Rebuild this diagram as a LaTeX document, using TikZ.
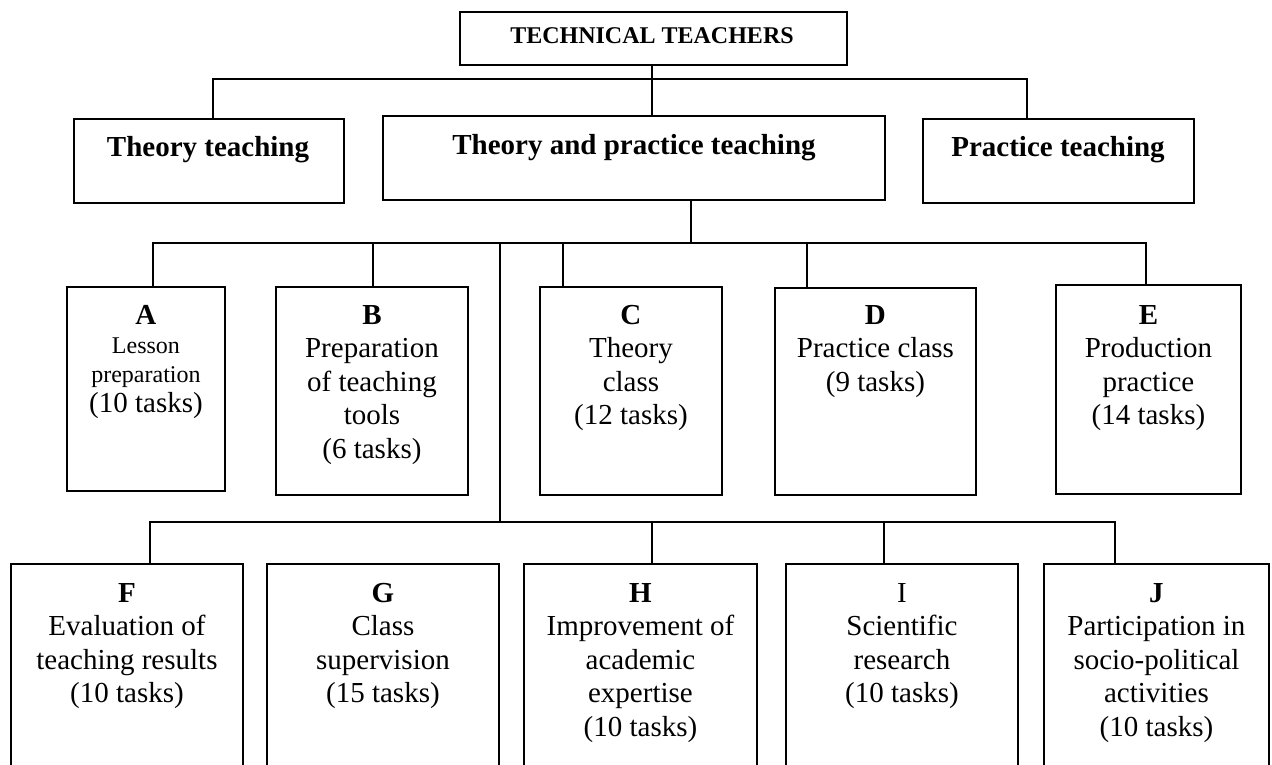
\documentclass[tikz,border=0pt]{standalone}
\usepackage{fontspec}
\setmainfont{Liberation Serif}
% text sizes used in the chart
\newcommand\topfont{\fontsize{24}{28}\selectfont\bfseries}
\newcommand\hdfont{\fontsize{29}{33.5}\selectfont\bfseries}
\newcommand\bxfont{\fontsize{29}{33.5}\selectfont}
\newcommand\smfont{\fontsize{24}{29}\selectfont}
\begin{document}
\begin{tikzpicture}[x=1pt,y=-1pt,
  box/.style={draw, line width=1.9pt, rectangle, inner sep=0pt, anchor=north west},
  wire/.style={line width=1.6pt},
  txt/.style={inner sep=0pt, anchor=base},
]
\useasboundingbox (0,0) rectangle (1272,765);
\clip (0,0) rectangle (1272,765);

% ---- root ----
\node[box, minimum width=387pt, minimum height=53pt] (top) at (459,11) {};
\node[txt] (topT) at (652,44) {\topfont TECHNICAL TEACHERS};

% ---- second level ----
\node[box, minimum width=270pt, minimum height=84pt] (T)  at (73,118)  {};
\node[box, minimum width=502pt, minimum height=84pt] (TP) at (382,115) {};
\node[box, minimum width=271pt, minimum height=84pt] (P)  at (922,118) {};
\node[txt] (Tt)  at (208,157)  {\hdfont Theory teaching};
\node[txt] (TPt) at (634,155)  {\hdfont Theory and practice teaching};
\node[txt] (Pt)  at (1058,157) {\hdfont Practice teaching};

% ---- third level ----
\node[box, minimum width=158pt, minimum height=204pt] (A) at (66,286)   {};
\node[box, minimum width=192pt, minimum height=208pt] (B) at (275,286)  {};
\node[box, minimum width=182pt, minimum height=208pt] (C) at (539,286)  {};
\node[box, minimum width=201pt, minimum height=207pt] (D) at (774,287)  {};
\node[box, minimum width=185pt, minimum height=209pt] (E) at (1055,284) {};

\node[txt] (At) at (A.north |- 0,324) {\parbox[t]{154pt}{\centering\bxfont
  \textbf{A}\par{\smfont Lesson\par preparation\par}{\fontsize{29}{30}\selectfont (10 tasks)\par}}};
\node[txt] (Bt) at (B.north |- 0,324) {\parbox[t]{188pt}{\centering\bxfont
  \textbf{B}\par Preparation\par of teaching\par tools\par (6 tasks)\par}};
\node[txt] (Ct) at (C.north |- 0,324) {\parbox[t]{178pt}{\centering\bxfont
  \textbf{C}\par Theory\par class\par (12 tasks)\par}};
\node[txt] (Dt) at (D.north |- 0,324) {\parbox[t]{197pt}{\centering\bxfont
  \textbf{D}\par Practice class\par (9 tasks)\par}};
\node[txt] (Et) at (E.north |- 0,324) {\parbox[t]{181pt}{\centering\bxfont
  \textbf{E}\par Production\par practice\par (14 tasks)\par}};

% ---- fourth level (boxes run past the lower edge) ----
\node[box, minimum width=232pt, minimum height=260pt] (F) at (10,563)   {};
\node[box, minimum width=232pt, minimum height=260pt] (G) at (266,563)  {};
\node[box, minimum width=233pt, minimum height=260pt] (H) at (523,563)  {};
\node[box, minimum width=232pt, minimum height=260pt] (I) at (785,563)  {};
\node[box, minimum width=225pt, minimum height=260pt] (J) at (1043,563) {};

\node[txt] (Ft) at (F.north |- 0,602) {\parbox[t]{228pt}{\centering\bxfont
  \textbf{F}\par Evaluation of\par teaching results\par (10 tasks)\par}};
\node[txt] (Gt) at (G.north |- 0,602) {\parbox[t]{228pt}{\centering\bxfont
  \textbf{G}\par Class\par supervision\par (15 tasks)\par}};
\node[txt] (Ht) at (H.north |- 0,602) {\parbox[t]{229pt}{\centering\bxfont
  \textbf{H}\par Improvement of\par academic\par expertise\par (10 tasks)\par}};
\node[txt] (It) at (I.north |- 0,602) {\parbox[t]{228pt}{\centering\bxfont
  I\par Scientific\par research\par (10 tasks)\par}};
\node[txt] (Jt) at (J.north |- 0,602) {\parbox[t]{221pt}{\centering\bxfont
  \textbf{J}\par Participation in\par socio-political\par activities\par (10 tasks)\par}};

% ---- connectors ----
\coordinate (stem) at (652,79);
\coordinate (busL) at (213,79);
\coordinate (busR) at (1027,79);
\draw[wire] (stem |- top.south) -- (stem |- TP.north);
\draw[wire] (busL |- T.north) -- (busL) -- (busR) -- (busR |- P.north);

\coordinate (drop) at (691,243);
\coordinate (b3L) at (153,243);
\coordinate (b3R) at (1146,243);
\coordinate (b3B) at (373,243);
\coordinate (b3C) at (563,243);
\coordinate (b3D) at (807,243);
\draw[wire] (drop |- TP.south) -- (drop);
\draw[wire] (b3L |- A.north) -- (b3L) -- (b3R) -- (b3R |- E.north);
\draw[wire] (b3B) -- (b3B |- B.north);
\draw[wire] (b3C) -- (b3C |- C.north);
\draw[wire] (b3D) -- (b3D |- D.north);

\coordinate (spine) at (500,243);
\coordinate (b4M) at (500,522);
\draw[wire] (spine) -- (b4M);

\coordinate (b4L) at (150,522);
\coordinate (b4R) at (1115,522);
\coordinate (b4H) at (652,522);
\coordinate (b4I) at (884,522);
\draw[wire] (b4L |- F.north) -- (b4L) -- (b4R) -- (b4R |- J.north);
\draw[wire] (b4H) -- (b4H |- H.north);
\draw[wire] (b4I) -- (b4I |- I.north);
\end{tikzpicture}
\end{document}
